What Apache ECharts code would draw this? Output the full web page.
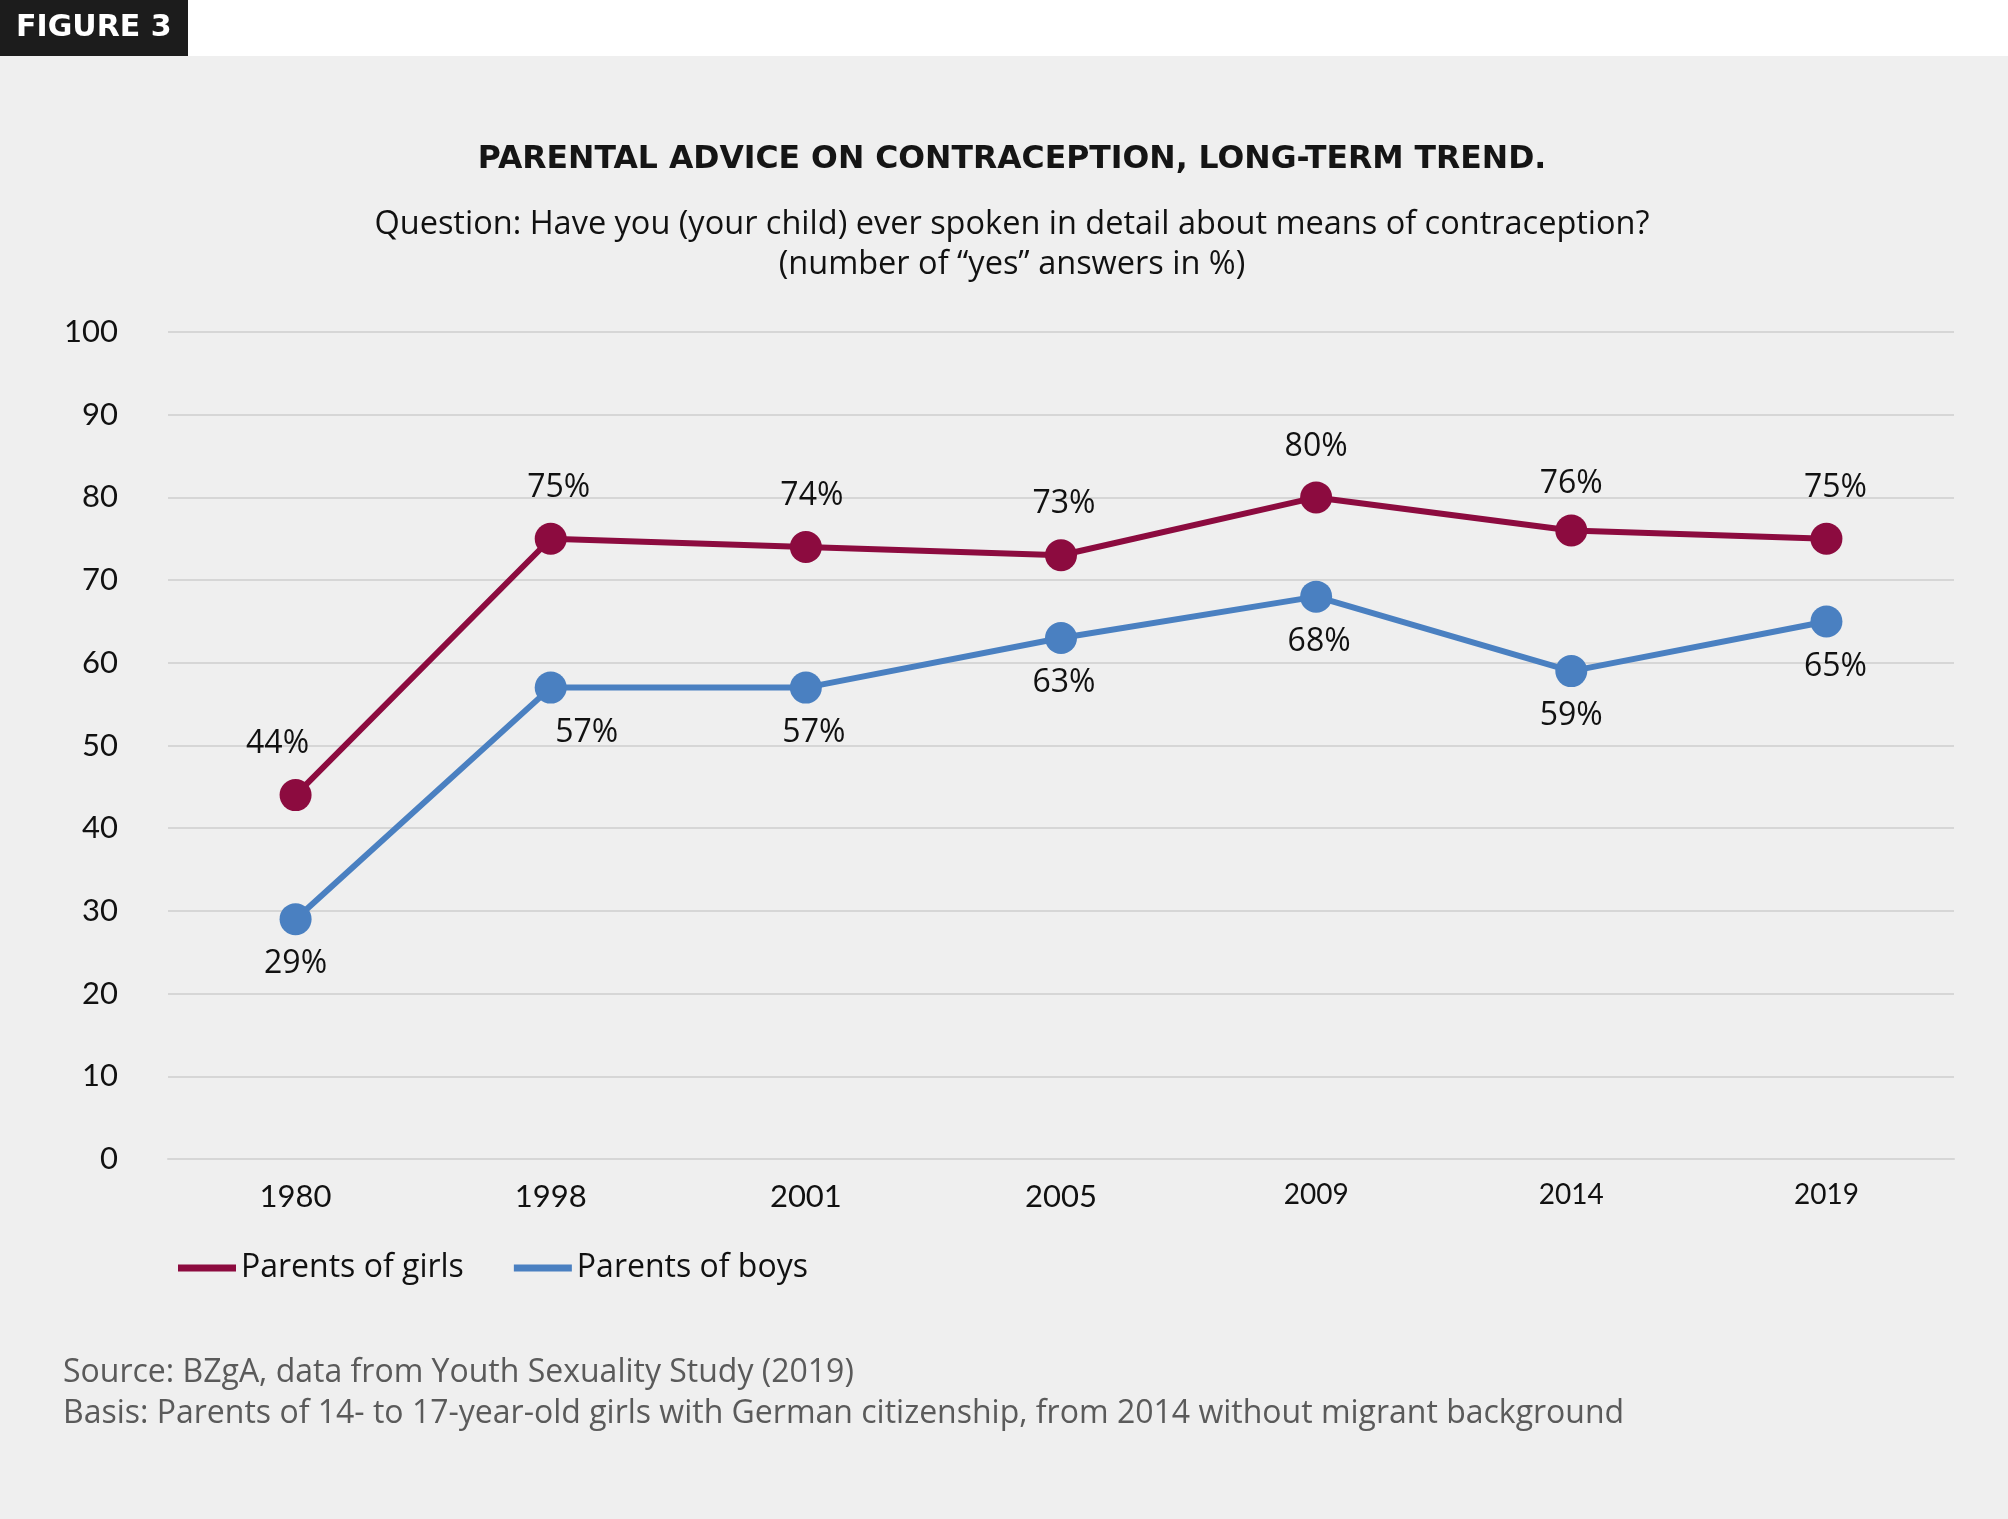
<!DOCTYPE html>
<html>
<head>
<meta charset="utf-8">
<style>
html,body{margin:0;padding:0;background:#efefef;}
#chart{width:2008px;height:1519px;}
</style>
<script src="https://cdn.jsdelivr.net/npm/echarts@6/dist/echarts.min.js"></script>
</head>
<body>
<div id="chart"></div>
<script>
const years = ['1980', '1998', '2001', '2005', '2009', '2014', '2019'];
const girls = [44, 75, 74, 73, 80, 76, 75];
const boys = [29, 57, 57, 63, 68, 59, 65];
const yTicks = [0, 10, 20, 30, 40, 50, 60, 70, 80, 90, 100];

const FONT = '"Open Sans", Lato, sans-serif';
const HEADFONT = '"DejaVu Sans", "Open Sans", sans-serif';
const TICKFONT = 'Lato, "Open Sans", sans-serif';
const chart = echarts.init(document.getElementById('chart'), null, {renderer: 'canvas'});

const girlsOffsets = {0: [-18, 0], 1: [8, 0], 2: [6, 0], 3: [3, 0], 5: [0, 4], 6: [9, 0]};
const boysOffsets = {1: [36, 0], 2: [8, 0], 3: [3, 0], 4: [3, 0], 6: [9, 0]};

const option = {
  backgroundColor: '#efefef',
  animation: false,
  title: [
    {
      text: 'PARENTAL ADVICE ON CONTRACEPTION, LONG-TERM TREND.',
      left: 1007, top: 139, textAlign: 'center',
      textStyle: {fontFamily: HEADFONT, fontSize: 31.5, fontWeight: 'bold', color: '#151515'}
    },
    {
      text: 'Question: Have you (your child) ever spoken in detail about means of contraception?\n(number of \u201cyes\u201d answers in %)',
      left: 1007, top: 200, textAlign: 'center',
      textStyle: {fontFamily: FONT, fontSize: 32.5, fontWeight: 'normal', color: '#111', lineHeight: 40}
    },
    {
      text: 'Source: BZgA, data from Youth Sexuality Study (2019)\nBasis: Parents of 14- to 17-year-old girls with German citizenship, from 2014 without migrant background',
      left: 58, top: 1347,
      textStyle: {fontFamily: FONT, fontSize: 32, fontWeight: 'normal', color: '#5a5a5a', lineHeight: 41}
    }
  ],
  graphic: [
    {type: 'rect', left: 0, top: 0, shape: {width: 2008, height: 56}, style: {fill: '#ffffff'}, z: 0},
    {type: 'rect', left: 0, top: 0, shape: {width: 188, height: 56}, style: {fill: '#1c1c1c'}, z: 1},
    {type: 'text', left: 16, top: 13, style: {text: 'FIGURE 3', fill: '#ffffff', font: 'bold 30px ' + HEADFONT}, z: 2}
  ],
  legend: {
    left: 178, top: 1252, padding: 0,
    itemWidth: 58, itemHeight: 7, itemGap: 50,
    icon: 'rect',
    textStyle: {fontFamily: FONT, fontSize: 32, color: '#111'},
    data: ['Parents of girls', 'Parents of boys']
  },
  grid: {left: 168, right: 54, top: 332, bottom: 360, containLabel: false},
  xAxis: {
    type: 'category',
    data: years,
    boundaryGap: true,
    axisLine: {show: true, lineStyle: {color: '#d6d6d6', width: 2}},
    axisTick: {show: false},
    axisLabel: {
      fontFamily: TICKFONT, fontSize: 31, color: '#111', margin: 22,
      formatter: (v, i) => i >= 4 ? '{s|' + v + '}' : v,
      rich: {s: {fontFamily: TICKFONT, fontSize: 28, color: '#111', padding: [0, 0, 6, 0]}}
    }
  },
  yAxis: {
    type: 'value',
    min: yTicks[0], max: yTicks[yTicks.length - 1], interval: 10,
    axisLine: {show: false},
    axisTick: {show: false},
    splitLine: {lineStyle: {color: '#d6d6d6', width: 2}},
    axisLabel: {fontFamily: TICKFONT, fontSize: 31, color: '#111', margin: 50}
  },
  series: [
    {
      name: 'Parents of girls',
      type: 'line',
      data: girls.map((v, i) => girlsOffsets[i] ? {value: v, label: {offset: girlsOffsets[i]}} : v),
      color: '#8c0b3f',
      lineStyle: {width: 6, color: '#8c0b3f'},
      symbol: 'circle', symbolSize: 32,
      itemStyle: {color: '#8c0b3f'},
      label: {show: true, position: 'top', distance: 19, formatter: '{c}%', fontFamily: FONT, fontSize: 32, color: '#111'},
      z: 3
    },
    {
      name: 'Parents of boys',
      type: 'line',
      data: boys.map((v, i) => boysOffsets[i] ? {value: v, label: {offset: boysOffsets[i]}} : v),
      color: '#4a80c1',
      lineStyle: {width: 6, color: '#4a80c1'},
      symbol: 'circle', symbolSize: 32,
      itemStyle: {color: '#4a80c1'},
      label: {show: true, position: 'bottom', distance: 13, formatter: '{c}%', fontFamily: FONT, fontSize: 32, color: '#111'},
      z: 3
    }
  ]
};
chart.setOption(option);
</script>
</body>
</html>
